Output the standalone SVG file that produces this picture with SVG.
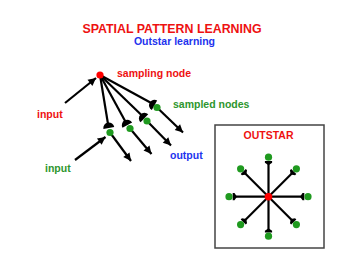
<svg xmlns="http://www.w3.org/2000/svg" width="350" height="270" viewBox="0 0 350 270">
<style>
text{font-family:"Liberation Sans",Arial,sans-serif;font-weight:bold;font-size:10.5px}
.red{fill:#ee1111}.blue{fill:#2233ee}.green{fill:#2e962e}
.ln{stroke:#000;stroke-width:2.2;fill:none}
.gdot{fill:#1f9a1f}.rdot{fill:#ff0000}
.cup{fill:#000}
</style>
<defs>
<marker id="arr" markerUnits="userSpaceOnUse" markerWidth="10" markerHeight="10" viewBox="-8 -4 9 8" refX="0" refY="0" orient="auto">
<path d="M-7,-3.5 L0,0 L-7,3.5 Z" fill="#000"/>
</marker>
<marker id="tee" markerUnits="userSpaceOnUse" markerWidth="10" markerHeight="10" viewBox="-5 -5 10 10" refX="0" refY="0" orient="auto">
<path d="M-2.5,0 L0,-3.6 L1.8,-3.6 L1.8,3.6 L0,3.6 Z" fill="#000"/>
</marker>
<path id="cupShape" d="M0,-5.5 A5.5,5.5 0 0 0 0,5.5 Z"/>
</defs>
<rect width="350" height="270" fill="#fff"/>
<g id="title">
<text x="172" y="33.3" text-anchor="middle" class="red" style="font-size:12.4px">SPATIAL PATTERN LEARNING</text>
<text x="174.5" y="45" text-anchor="middle" class="blue">Outstar learning</text>
</g>
<g id="connectors">
<line class="ln" x1="65" y1="103" x2="96" y2="78" marker-end="url(#arr)"/>
<line class="ln" x1="75" y1="160" x2="105.5" y2="137" marker-end="url(#arr)"/>
<line class="ln" x1="100" y1="75" x2="108.5" y2="127"/>
<line class="ln" x1="100" y1="75" x2="127" y2="124.5"/>
<line class="ln" x1="100" y1="75" x2="144" y2="117.5"/>
<line class="ln" x1="100" y1="75" x2="154" y2="104.5"/>
<line class="ln" x1="110" y1="132.5" x2="131" y2="161" marker-end="url(#arr)"/>
<line class="ln" x1="130" y1="128.5" x2="151.5" y2="154" marker-end="url(#arr)"/>
<line class="ln" x1="147" y1="121" x2="171" y2="145.5" marker-end="url(#arr)"/>
<line class="ln" x1="157" y1="107.5" x2="183" y2="132.5" marker-end="url(#arr)"/>
<g id="outstar-lines">
<line class="ln" x1="268.5" y1="196.7" x2="302.5" y2="196.7" marker-end="url(#tee)"/>
<line class="ln" x1="268.5" y1="196.7" x2="292.5" y2="220.7" marker-end="url(#tee)"/>
<line class="ln" x1="268.5" y1="196.7" x2="268.5" y2="230.7" marker-end="url(#tee)"/>
<line class="ln" x1="268.5" y1="196.7" x2="244.5" y2="220.7" marker-end="url(#tee)"/>
<line class="ln" x1="268.5" y1="196.7" x2="234.5" y2="196.7" marker-end="url(#tee)"/>
<line class="ln" x1="268.5" y1="196.7" x2="244.5" y2="172.7" marker-end="url(#tee)"/>
<line class="ln" x1="268.5" y1="196.7" x2="268.5" y2="162.7" marker-end="url(#tee)"/>
<line class="ln" x1="268.5" y1="196.7" x2="292.5" y2="172.7" marker-end="url(#tee)"/>
</g>
</g>
<g id="sampling-node">
<circle class="rdot" cx="100" cy="75" r="3.6"/>
<text x="117" y="77" class="red">sampling node</text>
</g>
<g id="synapses">
<use href="#cupShape" class="cup" transform="translate(108.8,128) rotate(80.7)"/>
<use href="#cupShape" class="cup" transform="translate(127.3,125.2) rotate(61.4)"/>
<use href="#cupShape" class="cup" transform="translate(144.4,118.3) rotate(44)"/>
<use href="#cupShape" class="cup" transform="translate(154.5,105.3) rotate(28.9)"/>
</g>
<g id="sampled-nodes">
<circle class="gdot" cx="110" cy="132.5" r="3.6"/>
<circle class="gdot" cx="130" cy="128.5" r="3.6"/>
<circle class="gdot" cx="147" cy="121" r="3.6"/>
<circle class="gdot" cx="157" cy="107.5" r="3.6"/>
<text x="173" y="108" class="green">sampled nodes</text>
</g>
<g id="labels">
<text x="37" y="118" class="red">input</text>
<text x="45" y="172" class="green">input</text>
<text x="170" y="159" class="blue">output</text>
</g>
<g id="outstar">
<rect x="215" y="125" width="109" height="123" fill="none" stroke="#444" stroke-width="1.5"/>
<text x="268.5" y="139" text-anchor="middle" class="red">OUTSTAR</text>
<circle class="gdot" cx="308" cy="196.7" r="3.6"/>
<circle class="gdot" cx="296.4" cy="224.6" r="3.6"/>
<circle class="gdot" cx="268.5" cy="236.2" r="3.6"/>
<circle class="gdot" cx="240.6" cy="224.6" r="3.6"/>
<circle class="gdot" cx="229" cy="196.7" r="3.6"/>
<circle class="gdot" cx="240.6" cy="168.8" r="3.6"/>
<circle class="gdot" cx="268.5" cy="157.2" r="3.6"/>
<circle class="gdot" cx="296.4" cy="168.8" r="3.6"/>
<circle class="rdot" cx="268.5" cy="196.7" r="3.8"/>
</g>
</svg>
